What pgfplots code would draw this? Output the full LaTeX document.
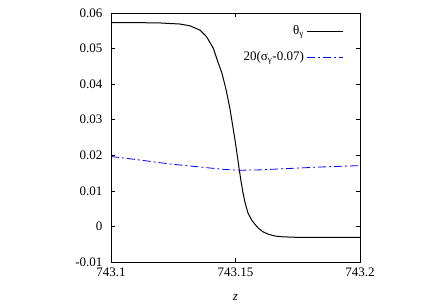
\documentclass[border=0pt]{standalone}
\usepackage{fontspec}
\setmainfont{Liberation Serif}
\usepackage{pgfplots}
\pgfplotsset{compat=1.18}
\begin{document}
\fontsize{13}{15}\selectfont
\begin{tikzpicture}
\begin{axis}[
  at={(0pt,0pt)}, anchor=south west,
  scale only axis, width=249pt, height=249pt,
  xmin=743.1, xmax=743.2, ymin=-0.01, ymax=0.06,
  xtick={743.1,743.15,743.2},
  xticklabels={743.1,743.15,743.2},
  ytick={-0.01,0,0.01,0.02,0.03,0.04,0.05,0.06},
  yticklabels={-0.01,0,0.01,0.02,0.03,0.04,0.05,0.06},
  tick align=inside, major tick length=4pt,
  tick style={black, line width=0.6pt},
  axis line style={line width=0.9pt},
  yticklabel style={xshift=-4pt},
  xticklabel style={yshift=-1pt},
  xlabel={\textit{z}},
  xlabel style={yshift=-9pt},
  scaled ticks=false,
  legend cell align=right,
  legend plot pos=right,
  legend style={at={(axis description cs:0.936,0.962)}, anchor=north east, draw=none, fill=none,
    row sep=9pt, inner sep=0pt, nodes={inner sep=3pt}},
  legend image code/.code={\draw[#1] (0pt,0pt) -- (36pt,0pt);},
]
\addplot[black, line width=1pt] coordinates {
(743.1000,0.0573) (743.1100,0.0573) (743.1197,0.0572) (743.1277,0.0569) (743.1317,0.0564)
(743.1357,0.0552) (743.1384,0.0533) (743.1411,0.0501) (743.1431,0.0459) (743.1445,0.0432)
(743.1462,0.0385) (743.1478,0.0330) (743.1486,0.0295) (743.1498,0.0243) (743.1506,0.0205)
(743.1514,0.0165) (743.1522,0.0128) (743.1530,0.0095) (743.1538,0.0068) (743.1550,0.0038)
(743.1565,0.0018) (743.1578,0.0006) (743.1592,-0.0005) (743.1610,-0.0015) (743.1632,-0.0022)
(743.1659,-0.0027) (743.1686,-0.0029) (743.1719,-0.0030) (743.1766,-0.0031) (743.2000,-0.0031)
};
\addlegendentry{θ\textsubscript{γ}}
\addplot[blue, line width=0.8pt, dash pattern=on 8pt off 3pt on 2pt off 3pt] coordinates {
(743.1000,0.01966) (743.1116,0.01867) (743.1237,0.01755) (743.1357,0.01671) (743.1458,0.0160)
(743.1518,0.0158) (743.1598,0.0159) (743.1719,0.0163) (743.1839,0.0167) (743.2000,0.0171)
};
\addlegendentry{20(σ\textsubscript{γ}-0.07)}
\end{axis}
\useasboundingbox (-111pt,-43pt) rectangle (325pt,262pt);
\end{tikzpicture}
\end{document}
